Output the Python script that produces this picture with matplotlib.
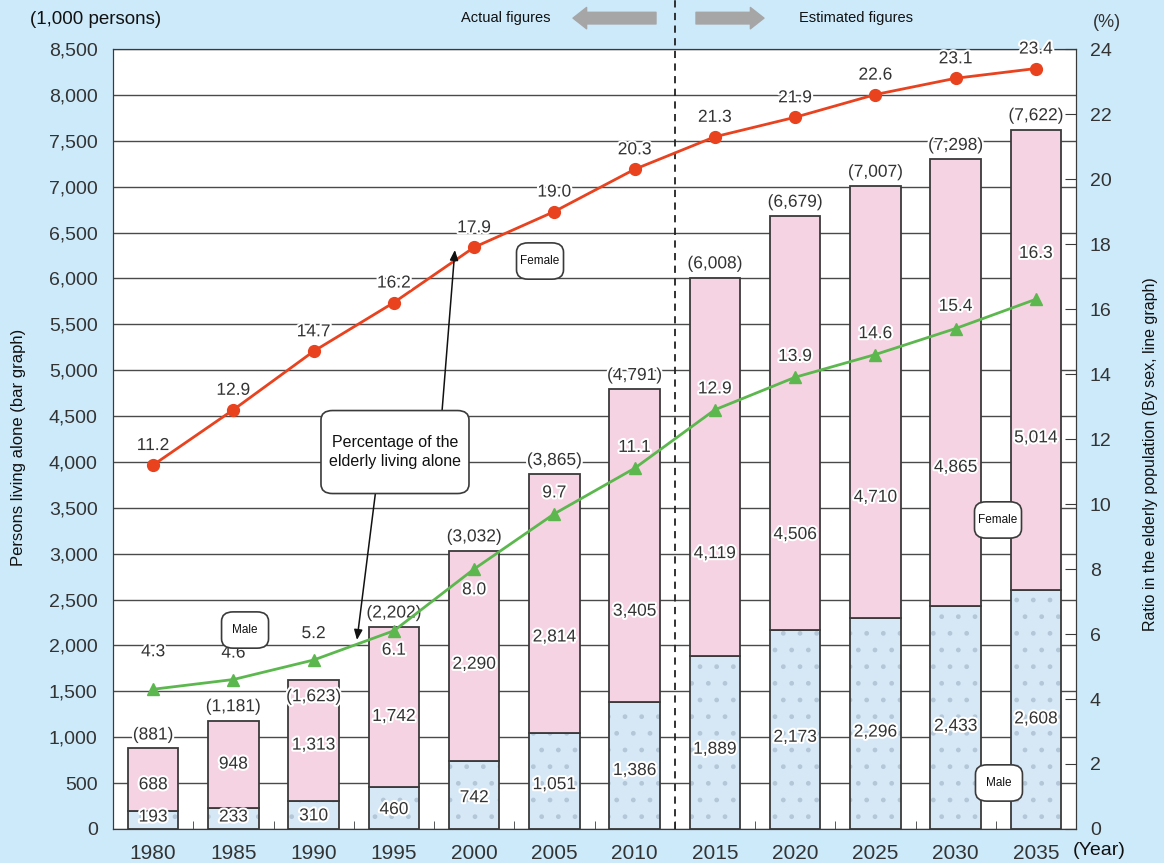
import numpy as np
import matplotlib.pyplot as plt
from matplotlib import patheffects as pe
from matplotlib.patches import FancyBboxPatch

plt.rcParams['font.family'] = ['Liberation Sans', 'DejaVu Sans']
plt.rcParams['hatch.linewidth'] = 1.0

years = ['1980', '1985', '1990', '1995', '2000', '2005', '2010',
         '2015', '2020', '2025', '2030', '2035']
male = [193, 233, 310, 460, 742, 1051, 1386, 1889, 2173, 2296, 2433, 2608]
female = [688, 948, 1313, 1742, 2290, 2814, 3405, 4119, 4506, 4710, 4865, 5014]
totals = [881, 1181, 1623, 2202, 3032, 3865, 4791, 6008, 6679, 7007, 7298, 7622]
female_pct = [11.2, 12.9, 14.7, 16.2, 17.9, 19.0, 20.3, 21.3, 21.9, 22.6, 23.1, 23.4]
male_pct = [4.3, 4.6, 5.2, 6.1, 8.0, 9.7, 11.1, 12.9, 13.9, 14.6, 15.4, 16.3]

# label placement tweaks (fraction of the female segment, offsets in points)
female_label_frac = [0.42, 0.5, 0.46, 0.44, 0.46, 0.37, 0.29, 0.27, 0.23, 0.28, 0.31, 0.33]
total_offset = [9.5, 10, -12, 10, 10, 10, 10, 10, 10, 10, 10, 10]
male_pct_offset = [27, 19, 19, -14, -15, 15, 15, 15, 15, 15, 16, 33]

x = np.arange(len(years))
w = 0.63
dark = '#3a3a3a'
txt = '#333333'
halo = [pe.withStroke(linewidth=3, foreground='white')]

fig = plt.figure(figsize=(11.64, 8.63), dpi=100, facecolor='#cdeafa')
ax = fig.add_axes([0.0971, 0.0394, 0.8273, 0.9038])
ax.set_facecolor('white')
ax2 = ax.twinx()

# stacked bars
ax.bar(x, male, w, color='#d6e8f6', edgecolor='#b3c7d9', hatch='.', lw=0, zorder=2)
ax.bar(x, male, w, fill=False, edgecolor=dark, lw=1.3, zorder=3)
ax.bar(x, female, w, bottom=male, color='#f6d3e2', edgecolor=dark, lw=1.3, zorder=3)

for i in range(len(x)):
    ax.text(x[i], max(male[i] * 0.46, 130), f'{male[i]:,}', ha='center', va='center',
            fontsize=12.5, color=txt, path_effects=halo, zorder=4)
    ax.text(x[i], male[i] + female[i] * female_label_frac[i], f'{female[i]:,}',
            ha='center', va='center', fontsize=12.5, color=txt, path_effects=halo, zorder=4)
    ax.annotate(f'({totals[i]:,})', (x[i], male[i] + female[i]), xytext=(0, total_offset[i]),
                textcoords='offset points', ha='center', va='center', fontsize=12.5,
                color=txt, path_effects=halo, zorder=4)

ax.set_xlim(-0.5, 11.5)
ax.set_ylim(0, 8500)
yt = np.arange(0, 8501, 500)
ax.set_yticks(yt)
ax.set_yticklabels([f'{v:,}' for v in yt])
ax.yaxis.grid(True, color='#4a4a4a', lw=1)
ax.set_axisbelow(True)
ax.set_xticks(x)
ax.set_xticklabels(years)
ax.set_xticks(x[:-1] + 0.5, minor=True)
ax.tick_params(axis='x', which='major', length=0, pad=11, labelsize=15, labelcolor=txt)
ax.tick_params(axis='x', which='minor', direction='in', length=6, color=dark)
ax.tick_params(axis='y', length=0, pad=11, labelsize=14, labelcolor=txt)
for s in ax.spines.values():
    s.set_color(dark)

# ratio lines
ax2.set_ylim(0, 24)
ax2.set_yticks(range(0, 25, 2))
ax2.tick_params(axis='y', direction='in', length=8, color=dark, pad=10,
                labelsize=14, labelcolor=txt)
for s in ax2.spines.values():
    s.set_color(dark)

ax2.plot(x, female_pct, color='#e8421f', lw=2, marker='o', ms=8.5, zorder=5)
ax2.plot(x, male_pct, color='#5cb84e', lw=2, marker='^', ms=9, zorder=5)
for i in range(len(x)):
    ax2.annotate(f'{female_pct[i]:.1f}', (x[i], female_pct[i]), xytext=(0, 14),
                 textcoords='offset points', ha='center', va='center', fontsize=12.5,
                 color=txt, path_effects=halo, zorder=6)
    ax2.annotate(f'{male_pct[i]:.1f}', (x[i], male_pct[i]), xytext=(0, male_pct_offset[i]),
                 textcoords='offset points', ha='center', va='center', fontsize=12.5,
                 color=txt, path_effects=halo, zorder=6)

# actual / estimated divider
ax.plot([6.5, 6.5], [0, 1.063], transform=ax.get_xaxis_transform(), clip_on=False,
        color='#222222', ls=(0, (4, 3)), lw=1.3, zorder=6)


def callout(cx, cy, bw, bh, label, size):
    # rounded white box in axes fraction with centred text
    ax2.add_patch(FancyBboxPatch((cx - bw / 2, cy - bh / 2), bw, bh,
                                 boxstyle='round,pad=0,rounding_size=0.012',
                                 transform=ax2.transAxes, fc='white', ec=dark,
                                 lw=1.2, zorder=8, clip_on=False))
    ax2.text(cx, cy, label, transform=ax2.transAxes, ha='center', va='center',
             fontsize=size, linespacing=1.35, color='#111111', zorder=9)


callout(0.2928, 0.4833, 0.1537, 0.1064, 'Percentage of the\nelderly living alone', 11.5)
for cx, cy, lab in [(0.4434, 0.7282, 'Female'), (0.1371, 0.2551, 'Male'),
                    (0.9190, 0.3962, 'Female'), (0.9200, 0.0590, 'Male')]:
    callout(cx, cy, 0.0488, 0.0465, lab, 8.5)

arrow = dict(arrowstyle='-|>,head_length=0.6,head_width=0.25', color='#111111', lw=1.1,
             shrinkA=0, shrinkB=0)
ax2.annotate('', xy=(3.76, 6310), xycoords=ax.transData, xytext=(3.60, 4555),
             textcoords=ax.transData, arrowprops=arrow, zorder=7)
ax2.annotate('', xy=(2.54, 2060), xycoords=ax.transData, xytext=(2.77, 3662),
             textcoords=ax.transData, arrowprops=arrow, zorder=7)

# header and axis captions
fig.text(0.0258, 0.977, '(1,000 persons)', ha='left', va='center', fontsize=13.5, color='#111111')
fig.text(0.4347, 0.979, 'Actual figures', ha='center', va='center', fontsize=10.5, color='#111111')
fig.text(0.7354, 0.979, 'Estimated figures', ha='center', va='center', fontsize=10.5, color='#111111')
grey = dict(arrowstyle='simple,head_length=0.7,head_width=1.1,tail_width=0.6',
            color='#a6a6a6', shrinkA=0, shrinkB=0, mutation_scale=14)
fig.add_artist(plt.Annotation('', xy=(573 / 1164, 0.979), xycoords='figure fraction',
                              xytext=(656 / 1164, 0.979), textcoords='figure fraction',
                              arrowprops=grey))
fig.add_artist(plt.Annotation('', xy=(764 / 1164, 0.979), xycoords='figure fraction',
                              xytext=(696 / 1164, 0.979), textcoords='figure fraction',
                              arrowprops=grey))
fig.text(0.951, 0.974, '(%)', ha='center', va='center', fontsize=13, color=txt)
fig.text(0.944, 0.014, '(Year)', ha='center', va='center', fontsize=14, color='#111111')
fig.text(0.0155, 0.482, 'Persons living alone (bar graph)', rotation=90,
         ha='center', va='center', fontsize=12, color='#111111')
fig.text(0.988, 0.474, 'Ratio in the elderly population (By sex, line graph)', rotation=90,
         ha='center', va='center', fontsize=11.5, color='#111111')

fig.savefig('out.png', dpi=100, facecolor=fig.get_facecolor())
